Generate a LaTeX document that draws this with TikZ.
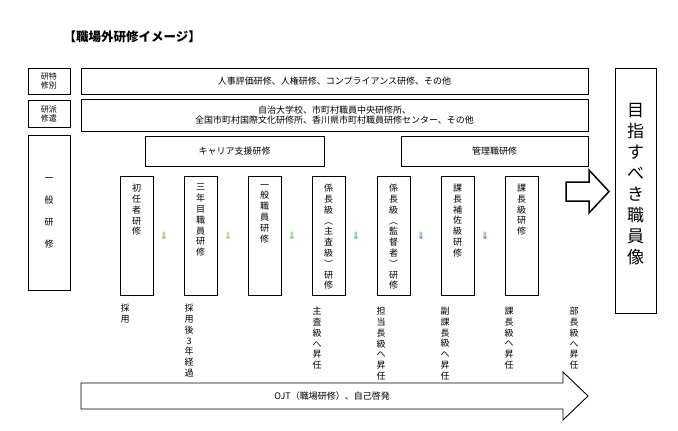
\documentclass[tikz,border=0pt]{standalone}
\usepackage{fontspec}
\setmainfont{Noto Sans CJK JP}
\newfontfamily\djv{DejaVu Sans}
\begin{document}
\begin{tikzpicture}[x=1pt,y=-1pt,
  bx/.style={draw,line width=0.8pt,inner sep=0},
  txt/.style={font=\fontsize{9}{11}\selectfont,align=center,inner sep=0},
  vt/.style={font=\fontsize{9}{10.8}\selectfont,align=center,inner sep=0,anchor=north},
  dar/.style={font=\djv\fontsize{10}{10}\selectfont,inner sep=0}]
\useasboundingbox (0,0) rectangle (678,431);
\node[anchor=west,font=\bfseries\fontsize{12.5}{14}\selectfont] (title) at (60,37) {【職場外研修イメージ】};
% left boxes
\draw[bx] (28,68) rectangle (70,94);
\node[txt,font=\fontsize{8}{9}\selectfont] (l1) at (49,81) {研特\\修別};
\draw[bx] (28,100) rectangle (70,127);
\node[txt,font=\fontsize{8}{9}\selectfont] (l2) at (49,113.5) {研派\\修遣};
\draw[bx] (28,135) rectangle (70,290);
\node[txt,font=\fontsize{9}{22}\selectfont] (l3) at (49,213) {一\\般\\研\\修};
% wide boxes
\draw[bx] (81,68) rectangle (588,94);
\node[txt] (w1) at (334.5,81) {人事評価研修、人権研修、コンプライアンス研修、その他};
\draw[bx] (81,99) rectangle (588,131);
\node[txt,font=\fontsize{9}{10.5}\selectfont] (w2) at (334.5,115) {自治大学校、市町村職員中央研修所、\\全国市町村国際文化研修所、香川県市町村職員研修センター、その他};
\draw[bx] (145,136) rectangle (324,166);
\node[txt] (c1) at (234.5,151) {キャリア支援研修};
\draw[bx] (401,136) rectangle (588,166);
\node[txt] (c2) at (494.5,151) {管理職研修};
% vertical boxes
\foreach \x in {120,184,248,312,377,441,505}{\draw[bx] (\x,176) rectangle ++(33,119);}
\node[vt] (v1) at (136.5,184) {初\\任\\者\\研\\修};
\node[vt] (v2) at (200.5,184) {三\\年\\目\\職\\員\\研\\修};
\node[vt] (v3) at (264.5,184) {一\\般\\職\\員\\研\\修};
\node[vt] (v4) at (328.5,184) {係\\長\\級\\︵\\主\\査\\級\\︶\\研\\修};
\node[vt] (v5) at (393.5,184) {係\\長\\級\\︵\\監\\督\\者\\︶\\研\\修};
\node[vt] (v6) at (457.5,184) {課\\長\\補\\佐\\級\\研\\修};
\node[vt] (v7) at (521.5,184) {課\\長\\級\\研\\修};
% arrows between
\node[dar,text={rgb,255:red,230;green,120;blue,40}] (a1) at (164,236) {⇓};
\node[dar,text={rgb,255:red,170;green,180;blue,40}] (a2) at (228,236) {⇓};
\node[dar,text={rgb,255:red,90;green,180;blue,80}] (a3) at (292,236) {⇓};
\node[dar,text={rgb,255:red,60;green,160;blue,170}] (a4) at (356,236) {⇓};
\node[dar,text={rgb,255:red,80;green,120;blue,200}] (a5) at (421,236) {⇓};
\node[dar,text={rgb,255:red,110;green,90;blue,190}] (a6) at (485,236) {⇓};
% labels below
\node[vt] (b1) at (125,304) {採\\用};
\node[vt] (b2) at (189,304) {採\\用\\後\\3\\年\\経\\過};
\node[vt] (b3) at (317,307) {主\\査\\級\\へ\\昇\\任};
\node[vt] (b4) at (381,307) {担\\当\\長\\級\\へ\\昇\\任};
\node[vt] (b5) at (445,307) {副\\課\\長\\級\\へ\\昇\\任};
\node[vt] (b6) at (509,307) {課\\長\\級\\へ\\昇\\任};
\node[vt] (b7) at (574,307) {部\\長\\級\\へ\\昇\\任};
% big arrow
\draw[line width=1.5pt,line join=miter] (566,182) -- (589,182) -- (589,170) -- (609,191.5) -- (589,213) -- (589,201) -- (566,201) -- cycle;
% goal box
\draw[bx] (615,68) rectangle (656,313);
\node[txt,font=\fontsize{17}{21}\selectfont,anchor=north] (goal) at (635.5,103) {目\\指\\す\\べ\\き\\職\\員\\像};
% bottom arrow
\draw[line width=0.9pt,line join=miter] (81,383) -- (563,383) -- (563,372) -- (588,396) -- (563,420) -- (563,409) -- (81,409) -- cycle;
\node[txt] (ojt) at (332,396) {OJT（職場研修）、自己啓発};
\end{tikzpicture}
\end{document}
